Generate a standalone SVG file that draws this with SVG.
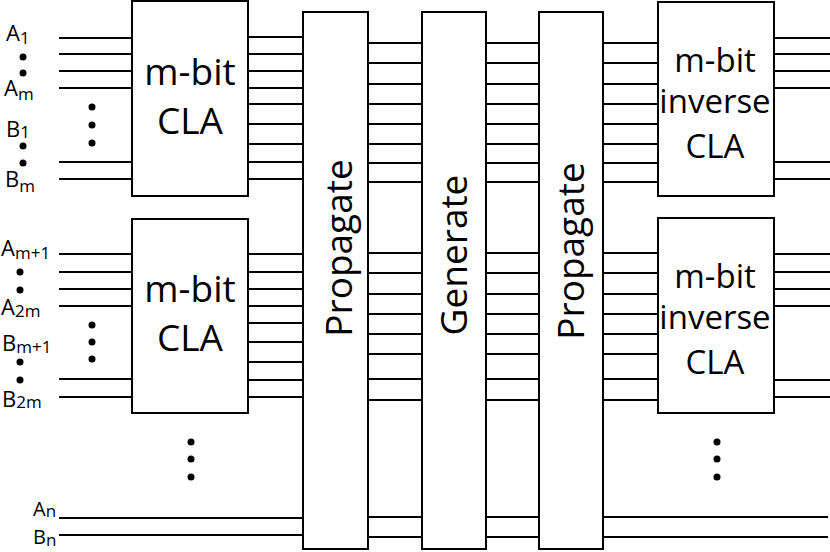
<svg xmlns="http://www.w3.org/2000/svg" width="830" height="552" viewBox="0 0 830 552">
<style>
.box{fill:#fff;stroke:#000;stroke-width:2}
.w{stroke:#000;stroke-width:2;fill:none}
.t{font-family:"Open Sans","Noto Sans",sans-serif;fill:#000}
.big{font-size:37px;text-anchor:middle}
.inv{font-size:33px;text-anchor:middle}
.rot{font-size:37px;text-anchor:middle}
.lab{font-size:22px}
.sub{font-size:17px}
.labn{font-size:20px}
.dot{fill:#000}
</style>
<rect width="830" height="552" fill="#fff"/>
<g id="connectors" class="w">
<path d="M59 38H132M59 54H132M59 71H132M59 88H132M59 162H132M59 179H132"/>
<path d="M59 254H132M59 272H132M59 289H132M59 306H132M59 379H132M59 397H132"/>
<path d="M248 37H303M248 54H303M248 71H303M248 88H303M248 104H303M248 124H303M248 144H303M248 162H303M248 179H303"/>
<path d="M248 254H303M248 272H303M248 289H303M248 306H303M248 323H303M248 342H303M248 362H303M248 380H303M248 397H303"/>
<path d="M368 43H422M368 63H422M368 84H422M368 104H422M368 124H422M368 144H422M368 163H422M368 182H422"/>
<path d="M368 253H422M368 273H422M368 294H422M368 314H422M368 334H422M368 354H422M368 379H422M368 400H422"/>
<path d="M486 43H539M486 63H539M486 84H539M486 104H539M486 124H539M486 144H539M486 163H539M486 182H539"/>
<path d="M486 253H539M486 273H539M486 294H539M486 314H539M486 334H539M486 354H539M486 379H539M486 400H539"/>
<path d="M603 43H658M603 63H658M603 84H658M603 104H658M603 124H658M603 144H658M603 163H658M603 182H658"/>
<path d="M603 253H658M603 273H658M603 294H658M603 314H658M603 334H658M603 354H658M603 379H658M603 400H658"/>
<path d="M774 38H830M774 54H830M774 71H830M774 88H830M774 162H830M774 179H830"/>
<path d="M774 254H830M774 272H830M774 289H830M774 306H830M774 380H830M774 397H830"/>
<path d="M59 518H303M59 535H303M368 517H422M368 537H422M486 517H539M486 537H539M603 517H828M603 537H828"/>
</g>
<g id="cla1"><rect class="box" x="132" y="1" width="116" height="195"/>
<text class="t big" x="190" y="85">m-bit</text><text class="t big" x="190" y="134">CLA</text></g>
<g id="cla2"><rect class="box" x="132" y="219" width="116" height="194"/>
<text class="t big" x="190" y="302">m-bit</text><text class="t big" x="190" y="351">CLA</text></g>
<g id="propagate1"><rect class="box" x="303" y="12" width="65" height="537"/>
<text class="t rot" transform="translate(352 248) rotate(-90)">Propagate</text></g>
<g id="generate"><rect class="box" x="422" y="12" width="64" height="537"/>
<text class="t rot" transform="translate(467 255) rotate(-90)">Generate</text></g>
<g id="propagate2"><rect class="box" x="539" y="12" width="64" height="537"/>
<text class="t rot" transform="translate(584 251) rotate(-90)">Propagate</text></g>
<g id="invcla1"><rect class="box" x="658" y="2" width="116" height="194"/>
<text class="t inv" x="715" y="72">m-bit</text><text class="t inv" x="715" y="113">inverse</text><text class="t inv" x="715" y="158">CLA</text></g>
<g id="invcla2"><rect class="box" x="658" y="218" width="116" height="195"/>
<text class="t inv" x="715" y="288">m-bit</text><text class="t inv" x="715" y="329">inverse</text><text class="t inv" x="715" y="374">CLA</text></g>
<g id="labels" class="t lab">
<text x="6" y="41">A<tspan class="sub" dy="3">1</tspan></text>
<text x="4" y="96">A<tspan class="sub" dy="4">m</tspan></text>
<text x="6" y="137">B<tspan class="sub" dy="1">1</tspan></text>
<text x="5" y="187">B<tspan class="sub" dy="5">m</tspan></text>
<text x="1" y="256">A<tspan class="sub" dy="3">m+1</tspan></text>
<text x="1" y="315">A<tspan class="sub" dy="2">2m</tspan></text>
<text x="2" y="351">B<tspan class="sub" dy="2">m+1</tspan></text>
<text x="2" y="407">B<tspan class="sub" dy="1">2m</tspan></text>
<text class="labn" x="33" y="516">A<tspan class="sub" dy="1">n</tspan></text>
<text class="labn" x="33" y="544">B<tspan class="sub" dy="2">n</tspan></text>
</g>
<g id="dots" class="dot">
<circle cx="23" cy="57" r="3.5"/><circle cx="23" cy="73" r="3.5"/><circle cx="23" cy="146" r="3.5"/><circle cx="23" cy="163" r="3.5"/>
<circle cx="20" cy="272" r="3.5"/><circle cx="20" cy="290" r="3.5"/><circle cx="20" cy="362" r="3.5"/><circle cx="20" cy="380" r="3.5"/>
<circle cx="92" cy="107" r="3.5"/><circle cx="92" cy="125" r="3.5"/><circle cx="92" cy="143" r="3.5"/>
<circle cx="92" cy="325" r="3.5"/><circle cx="92" cy="342" r="3.5"/><circle cx="92" cy="359" r="3.5"/>
<circle cx="191" cy="442" r="3.5"/><circle cx="191" cy="459" r="3.5"/><circle cx="191" cy="477" r="3.5"/>
<circle cx="717" cy="442" r="3.5"/><circle cx="717" cy="459" r="3.5"/><circle cx="717" cy="477" r="3.5"/>
</g>
</svg>
